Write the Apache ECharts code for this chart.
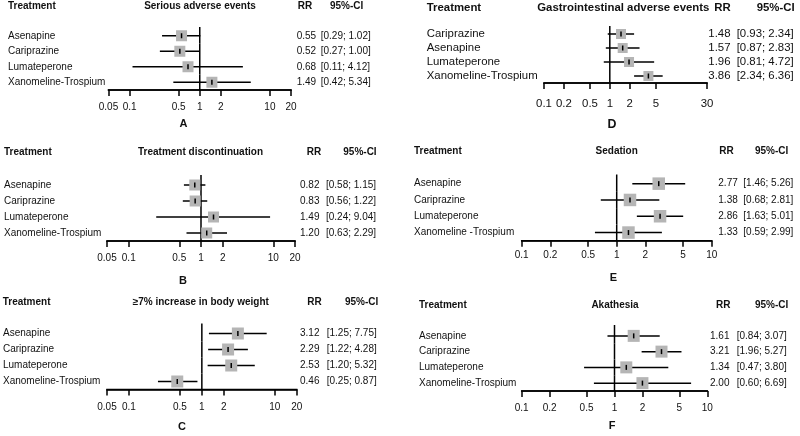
<!DOCTYPE html>
<html><head><meta charset="utf-8">
<script src="https://cdn.jsdelivr.net/npm/echarts@6/dist/echarts.min.js"></script>
<style>html,body{margin:0;padding:0;background:#fff}#c{width:800px;height:436px}</style>
</head><body><div id="c"></div>
<script>
// ---- data ----
const titleA = 'Serious adverse events';
const catsA = ['Asenapine', 'Cariprazine', 'Lumateperone', 'Xanomeline-Trospium'];
const rrA = [0.55, 0.52, 0.68, 1.49];
const loA = [0.29, 0.27, 0.11, 0.42];
const hiA = [1.02, 1.00, 4.12, 5.34];
const ticksA = [0.05, 0.1, 0.5, 1, 2, 10, 20];

const titleB = 'Treatment discontinuation';
const catsB = ['Asenapine', 'Cariprazine', 'Lumateperone', 'Xanomeline-Trospium'];
const rrB = [0.82, 0.83, 1.49, 1.20];
const loB = [0.58, 0.56, 0.24, 0.63];
const hiB = [1.15, 1.22, 9.04, 2.29];
const ticksB = [0.05, 0.1, 0.5, 1, 2, 10, 20];

const titleC = '\u22657% increase in body weight';
const catsC = ['Asenapine', 'Cariprazine', 'Lumateperone', 'Xanomeline-Trospium'];
const rrC = [3.12, 2.29, 2.53, 0.46];
const loC = [1.25, 1.22, 1.20, 0.25];
const hiC = [7.75, 4.28, 5.32, 0.87];
const ticksC = [0.05, 0.1, 0.5, 1, 2, 10, 20];

const titleD = 'Gastrointestinal adverse events';
const catsD = ['Cariprazine', 'Asenapine', 'Lumateperone', 'Xanomeline-Trospium'];
const rrD = [1.48, 1.57, 1.96, 3.86];
const loD = [0.93, 0.87, 0.81, 2.34];
const hiD = [2.34, 2.83, 4.72, 6.36];
const ticksD = [0.1, 0.2, 0.5, 1, 2, 5, 30];

const titleE = 'Sedation';
const catsE = ['Asenapine', 'Cariprazine', 'Lumateperone', 'Xanomeline -Trospium'];
const rrE = [2.77, 1.38, 2.86, 1.33];
const loE = [1.46, 0.68, 1.63, 0.59];
const hiE = [5.26, 2.81, 5.01, 2.99];
const ticksE = [0.1, 0.2, 0.5, 1, 2, 5, 10];

const titleF = 'Akathesia';
const catsF = ['Asenapine', 'Cariprazine', 'Lumateperone', 'Xanomeline-Trospium'];
const rrF = [1.61, 3.21, 1.34, 2.00];
const loF = [0.84, 1.96, 0.47, 0.60];
const hiF = [3.07, 5.27, 3.80, 6.69];
const ticksF = [0.1, 0.2, 0.5, 1, 2, 5, 10];

const letters = ['A', 'B', 'C', 'D', 'E', 'F'];
const headTreatment = 'Treatment';
const headRR = 'RR';
const headCI = '95%-CI';
const refValue = 1;

// ---- layout (positions / styles only) ----
const layout = [
  {gl:108.5, gr:291,   gt:28,    gb:90,    fs:10, labelX:8,     rrX:296.7, ciX:320.7, headY:6,     titleX:200,   rrHX:297.7, ciHX:330,   lx:183.5, ly:124,   tickCY:108,   sq:11,   ext:1},
  {gl:107,   gr:295,   gt:177,   gb:241,   fs:10, labelX:4,     rrX:300,   ciX:326,   headY:152,   titleX:200.5, rrHX:306.7, ciHX:343.3, lx:183,   ly:281,   tickCY:259,   sq:11,   ext:2},
  {gl:106.7, gr:296.7, gt:325.5, gb:389.5, fs:10, labelX:2.7,   rrX:300,   ciX:326.7, headY:302,   titleX:200.8, rrHX:307.3, ciHX:345,   lx:182,   ly:426.7, tickCY:407.3, sq:12,   ext:2},
  {gl:544,   gr:707,   gt:27,    gb:83,    fs:11.4, labelX:426.7, rrX:708.3, ciX:736.7, headY:7.5, titleX:623.3, rrHX:714.3, ciHX:756.7, lx:612,   ly:125,   tickCY:105,   sq:10,   ext:1},
  {gl:521.7, gr:711.7, gt:175.5, gb:240.7, fs:10, labelX:414,   rrX:718.3, ciX:743.3, headY:151.3, titleX:616.7, rrHX:719.3, ciHX:755,   lx:613.5, ly:277.5, tickCY:255.7, sq:12.5, ext:1},
  {gl:521.7, gr:707.3, gt:328,   gb:391,   fs:10, labelX:419,   rrX:710,   ciX:736.7, headY:305.5, titleX:615,   rrHX:716,   ciHX:755,   lx:612,   ly:426.3, tickCY:408.3, sq:12,   ext:3}
];

const panels = [
  {title:titleA, cats:catsA, rr:rrA, lo:loA, hi:hiA, ticks:ticksA},
  {title:titleB, cats:catsB, rr:rrB, lo:loB, hi:hiB, ticks:ticksB},
  {title:titleC, cats:catsC, rr:rrC, lo:loC, hi:hiC, ticks:ticksC},
  {title:titleD, cats:catsD, rr:rrD, lo:loD, hi:hiD, ticks:ticksD},
  {title:titleE, cats:catsE, rr:rrE, lo:loE, hi:hiE, ticks:ticksE},
  {title:titleF, cats:catsF, rr:rrF, lo:loF, hi:hiF, ticks:ticksF}
];

const FONT = "'Liberation Sans', Arial, Helvetica, sans-serif";
const TXT = '#111';
const SQ = '#b5b5b5';
const LW = 1.5;

const grid = [], xAxis = [], yAxis = [], series = [], graphic = [];

panels.forEach((p, i) => {
  const L = layout[i];
  grid.push({left: L.gl, top: L.gt, width: L.gr - L.gl, height: L.gb - L.gt, containLabel: false});
  const tmin = p.ticks[0], tmax = p.ticks[p.ticks.length - 1];
  xAxis.push({
    type: 'log', gridIndex: i, min: tmin, max: tmax, logBase: 10, position: 'bottom',
    axisLine: {show: true, onZero: false, lineStyle: {color: '#000', width: LW}},
    axisTick: {show: true, length: 6, lineStyle: {color: '#000', width: LW}, customValues: p.ticks},
    axisLabel: {show: true, customValues: p.ticks, color: TXT, fontSize: L.fs, fontFamily: FONT,
      margin: L.tickCY - L.gb - 0.55 * L.fs,
      formatter: v => String(+(+v).toPrecision(6))},
    splitLine: {show: false}, minorTick: {show: false}, minorSplitLine: {show: false}
  });
  const mk = (extra) => Object.assign({type: 'category', gridIndex: i, data: p.cats, inverse: true, boundaryGap: true,
    axisLine: {show: false, onZero: false}, axisTick: {show: false}, splitLine: {show: false}}, extra);
  yAxis.push(mk({position: 'left',
    axisLabel: {interval: 0, align: 'left', margin: L.gl - L.labelX, color: TXT, fontSize: L.fs, fontFamily: FONT}}));
  yAxis.push(mk({position: 'right',
    axisLabel: {interval: 0, align: 'left', margin: L.rrX - L.gr, color: TXT, fontSize: L.fs, fontFamily: FONT,
      formatter: (v, k) => p.rr[k].toFixed(2)}}));
  yAxis.push(mk({position: 'right',
    axisLabel: {interval: 0, align: 'left', margin: L.ciX - L.gr, color: TXT, fontSize: L.fs, fontFamily: FONT,
      formatter: (v, k) => '[' + p.lo[k].toFixed(2) + '; ' + p.hi[k].toFixed(2) + ']'}}));

  const data = p.cats.map((c, k) => [p.rr[k], p.lo[k], p.hi[k], k]);
  const n = p.cats.length;
  series.push({
    type: 'custom', xAxisIndex: i, yAxisIndex: i * 3, data: data,
    encode: {x: 0, y: 3}, clip: false, silent: true,
    renderItem: (params, api) => {
      const yv = api.value(3);
      const c = api.coord([api.value(0), yv]);
      const l = api.coord([api.value(1), yv]);
      const h = api.coord([api.value(2), yv]);
      const r = api.coord([refValue, yv]);
      const band = api.size([0, 1])[1];
      const s = L.sq;
      const top = c[1] - band / 2 - (yv === 0 ? L.ext : 0);
      const bot = c[1] + band / 2;
      const kids = [
        {type: 'line', shape: {x1: r[0], y1: top, x2: r[0], y2: bot}, style: {stroke: '#000', lineWidth: LW}},
        {type: 'line', shape: {x1: l[0], y1: c[1], x2: h[0], y2: c[1]}, style: {stroke: '#000', lineWidth: LW}},
        {type: 'rect', shape: {x: c[0] - s / 2, y: c[1] - s / 2, width: s, height: s}, style: {fill: SQ}},
        {type: 'line', shape: {x1: c[0], y1: c[1] - 2.5, x2: c[0], y2: c[1] + 2.5}, style: {stroke: '#000', lineWidth: 1.5}}
      ];
      if (yv === n - 1) {
        const cs = params.coordSys;
        const yb = cs.y + cs.height;
        kids.push({type: 'line', shape: {x1: cs.x - 0.75, y1: yb, x2: cs.x + cs.width + 0.75, y2: yb},
          style: {stroke: '#000', lineWidth: LW}});
      }
      return {type: 'group', children: kids};
    }
  });

  const hs = {fontSize: L.fs, fontWeight: 'bold', fill: TXT, fontFamily: FONT, verticalAlign: 'middle'};
  graphic.push({type: 'text', x: L.labelX, y: L.headY, style: Object.assign({text: headTreatment, align: 'left'}, hs)});
  graphic.push({type: 'text', x: L.titleX, y: L.headY, style: Object.assign({text: p.title, align: 'center'}, hs)});
  graphic.push({type: 'text', x: L.rrHX, y: L.headY, style: Object.assign({text: headRR, align: 'left'}, hs)});
  graphic.push({type: 'text', x: L.ciHX, y: L.headY, style: Object.assign({text: headCI, align: 'left'}, hs)});
  graphic.push({type: 'text', x: L.lx, y: L.ly, style: Object.assign({}, hs, {text: letters[i], align: 'center', fontSize: L.fs + 1})});
});

const chart = echarts.init(document.getElementById('c'), null, {renderer: 'canvas'});
chart.setOption({animation: false, backgroundColor: '#fff', grid, xAxis, yAxis, series, graphic});
</script>
</body></html>
